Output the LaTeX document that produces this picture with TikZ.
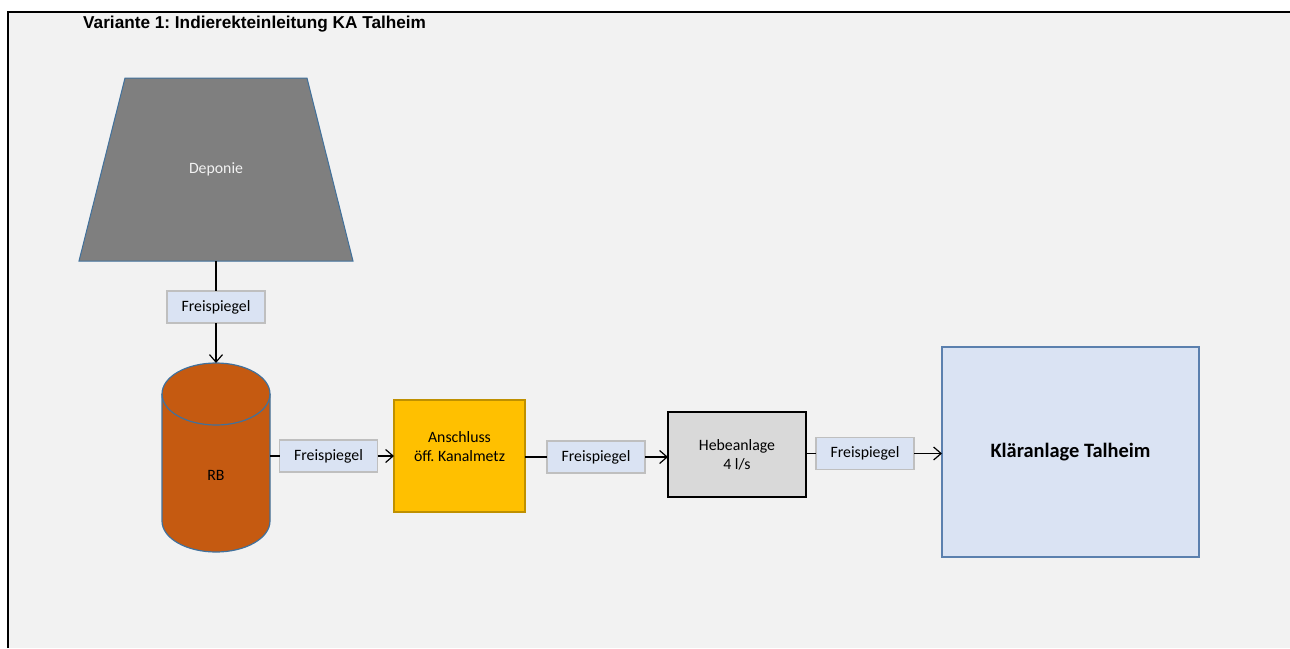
\documentclass[tikz,border=0pt]{standalone}
\usepackage{fontspec}
\setmainfont{Carlito}
\newfontfamily\titlefont{Liberation Sans}
\usetikzlibrary{arrows.meta}
\frenchspacing

\definecolor{bggray}{HTML}{F2F2F2}
\definecolor{edgeblue}{HTML}{41719C}
\definecolor{depgray}{HTML}{7F7F7F}
\definecolor{rbbrown}{HTML}{C55A11}
\definecolor{pipefill}{HTML}{DAE3F3}
\definecolor{pipeline}{HTML}{BFBFBF}
\definecolor{ansfill}{HTML}{FFC000}
\definecolor{ansline}{HTML}{BF9000}
\definecolor{hebefill}{HTML}{D9D9D9}
\definecolor{klarline}{HTML}{5B80AE}

\tikzstyle{pipebox}=[draw=pipeline, fill=pipefill, line width=1.2pt, minimum width=98pt, minimum height=32pt, inner sep=0pt, outer sep=0pt]
\tikzstyle{unitbox}=[line width=1.2pt, inner sep=0pt, outer sep=0pt, align=center]
\tikzstyle{hull}=[minimum width=108pt, inner sep=0pt, outer sep=0pt]

\begin{document}
\begin{tikzpicture}[x=1pt, y=-1pt, font=\fontsize{15.8}{19}\selectfont, >={Straight Barb[length=7.5pt,width=13pt]}]
\useasboundingbox (0,0) rectangle (1290,648);
\fill[bggray] (8,12) rectangle (1290,648);
\draw[line width=2.2pt] (8,648) -- (8,12) -- (1290,12);
\node[anchor=west, inner sep=0pt, font=\titlefont\bfseries\fontsize{17.2}{20}\selectfont] (title) at (83,24) {Variante 1: Indierekteinleitung KA Talheim};

% Deponie
\filldraw[fill=depgray, draw=edgeblue, line width=1pt] (125,78) -- (307,78) -- (353,261) -- (79,261) -- cycle;
\node[hull, minimum height=183pt, text=bggray] (dep) at (216,169.5) {Deponie};
\node[pipebox] (fs1) at (216,307) {Freispiegel};

% RB
\fill[rbbrown, draw=edgeblue, line width=1.2pt] (162,394) -- (162,521) arc[start angle=180, end angle=360, x radius=54pt, y radius=31pt] -- (270,394) arc[start angle=0, end angle=180, x radius=54pt, y radius=31pt] -- cycle;
\draw[edgeblue, line width=1.2pt] (162,394) arc[start angle=180, end angle=360, x radius=54pt, y radius=31pt];
\node[hull, minimum height=189pt] (rb) at (216,457.5) {};
\node (rblabel) at (216,475) {RB};

\node[pipebox] (fs2) at (328.5,456) {Freispiegel};
\node[unitbox, draw=ansline, fill=ansfill, minimum width=131pt, minimum height=112pt] (ans) at (459.5,456) {};
\node[align=center] (anstext) at (459.5,446.5) {Anschluss\\öff. Kanalmetz};
\node[pipebox] (fs3) at (596,457) {Freispiegel};
\node[unitbox, draw=black, fill=hebefill, minimum width=138pt, minimum height=85pt] (hebe) at (737,454.5) {Hebeanlage\\4 l/s};
\node[pipebox] (fs4) at (865,453.5) {Freispiegel};
\node[unitbox, draw=klarline, fill=pipefill, minimum width=257pt, minimum height=210pt, font=\bfseries\fontsize{20.4}{24}\selectfont] (klar) at (1070.5,452) {Kläranlage Talheim};

\begin{scope}[every path/.style={line width=1.2pt}]
       \draw (dep.south) -- (fs1.north);
       \draw[->] (fs1.south) -- (rb.north);
       \draw (rb.east |- fs2.west) -- (fs2.west);
       \draw[->] (fs2.east) -- (fs2.east -| ans.west);
       \draw (ans.east |- fs3.west) -- (fs3.west);
       \draw[->] (fs3.east) -- (fs3.east -| hebe.west);
       \draw (hebe.east |- fs4.west) -- (fs4.west);
       \draw[->] (fs4.east) -- (fs4.east -| klar.west);
\end{scope}
\end{tikzpicture}
\end{document}
